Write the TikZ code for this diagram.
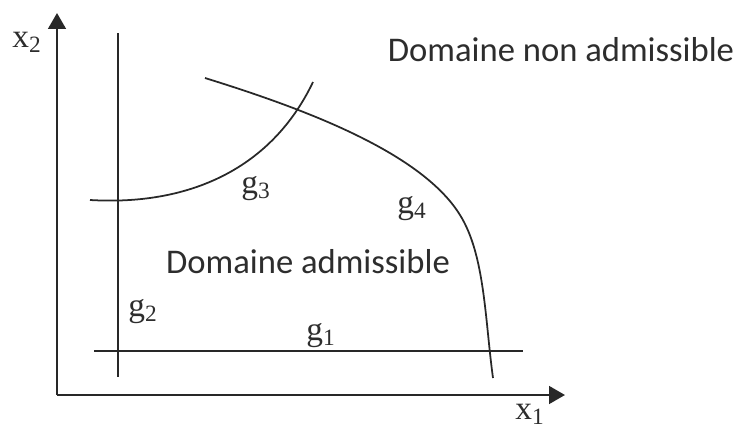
\documentclass[tikz,border=0pt]{standalone}
\usepackage{fontspec}
\setmainfont{Liberation Serif}
\newfontfamily\calibri{Carlito}
\usetikzlibrary{arrows.meta}
\definecolor{LineGray}{RGB}{40,40,40}
\definecolor{TextGray}{RGB}{45,45,45}
\tikzset{
  axis/.style={-{Triangle[length=9pt,width=10pt]},LineGray,line width=1.3pt},
  cline/.style={LineGray,line width=1pt},
  glab/.style={font=\fontsize{19}{22}\selectfont,TextGray,inner sep=0pt},
  dlab/.style={font=\calibri\fontsize{19.7}{23}\selectfont,TextGray,inner sep=0pt},
}
\begin{document}
\begin{tikzpicture}[x=0.02cm,y=-0.02cm]
  \useasboundingbox (0,0) rectangle (738,430);
  % axes
  \coordinate (O) at (57,395);
  \coordinate (xend) at (565,395);
  \coordinate (yend) at (57,13);
  \draw[axis] (O)--(xend);
  \draw[axis] (O)--(yend);
  \node[glab] (x1) at (530,414) {x\textsubscript{1}};
  \node[glab] (x2) at (27,42) {x\textsubscript{2}};
  % constraints
  \coordinate (g1a) at (94,351); \coordinate (g1b) at (523,351);
  \coordinate (g2a) at (118,33); \coordinate (g2b) at (118,377);
  \draw[cline] (g1a)--(g1b);
  \draw[cline] (g2a)--(g2b);
  \draw[cline] (90,200) .. controls (190,206) and (272,168) .. (313,82);
  \draw[cline] (205,78) .. controls (295,106) and (420,150) .. (460,215)
    .. controls (485,255) and (485,320) .. (493,378);
  \node[glab] (g1) at (321,336) {g\textsubscript{1}};
  \node[glab] (g2) at (143,312) {g\textsubscript{2}};
  \node[glab] (g3) at (256,189) {g\textsubscript{3}};
  \node[glab] (g4) at (412,209) {g\textsubscript{4}};
  % domains
  \node[dlab] (adm) at (308,262) {Domaine admissible};
  \node[dlab] (nadm) at (561,50) {Domaine non admissible};
\end{tikzpicture}
\end{document}
